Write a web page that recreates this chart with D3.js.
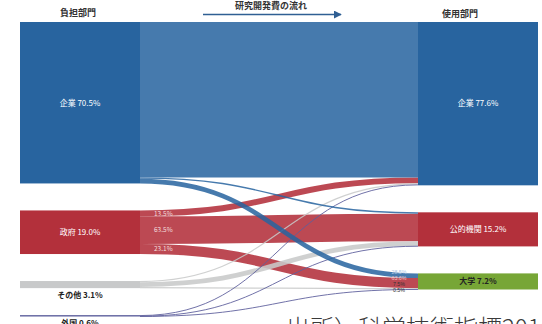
<!DOCTYPE html>
<html><head><meta charset="utf-8">
<script src="https://cdn.jsdelivr.net/npm/d3@7"></script>
<style>
html,body{margin:0;padding:0;background:#fff;}
svg{display:block;font-family:"Noto Sans CJK JP","Noto Sans",sans-serif;}
</style></head>
<body>
<svg id="chart" width="542" height="324"></svg>
<script>
// ---- data ----
const columns = ["負担部門", "使用部門"];
const sourceNodes = ["企業", "政府", "その他", "外国"];
const sourceShares = ["70.5%", "19.0%", "3.1%", "0.6%"];
const targetNodes = ["企業", "公的機関", "大学"];
const targetShares = ["77.6%", "15.2%", "7.2%"];
const flowSource = ["企業","企業","企業","政府","政府","政府","その他","その他","その他","外国","外国","外国"];
const flowTarget = ["企業","公的機関","大学","企業","公的機関","大学","企業","公的機関","大学","企業","公的機関","大学"];
const flowValues = [67.85, 0.6, 2.05, 2.57, 12.07, 4.39, 0.5, 2.06, 0.54, 0.4, 0.15, 0.05];
const govLabels = ["13.5%", "63.5%", "23.1%"];
const univLabels = ["28.5%", "63.6%", "7.5%", "0.5%"];
const title = "研究開発費の流れ";
const sourceNote = "出所）科学技術指標2016";

const colorOf = {"企業":"#28649f","政府":"#b3303b","その他":"#c8c9ca","外国":"#5d5f9c","公的機関":"#b3303b","大学":"#77a636"};

// ---- layout ----
const svg = d3.select("#chart");
const topY = 22, bottomY = 316.5, pad = 27, nodeW = 120;
const x = d3.scalePoint().domain(columns).range([20, 418]);

const links = flowValues.map((v,i)=>({s:flowSource[i], t:flowTarget[i], v}));
const srcSum = sourceNodes.map(n=>d3.sum(links.filter(l=>l.s===n), l=>l.v));
const tgtSum = targetNodes.map(n=>d3.sum(links.filter(l=>l.t===n), l=>l.v));
const k = (bottomY - topY - (sourceNodes.length-1)*pad) / d3.sum(srcSum);
const y = d3.scaleLinear().domain([0,1]).range([0,k]);

function stack(names, sums, col){
  let cur = topY;
  return names.map((n,i)=>{
    const o = {name:n, value:sums[i], x0:x(col), x1:x(col)+nodeW, y0:cur, y1:cur+y(sums[i])};
    cur = o.y1 + pad; return o;
  });
}
const sNodes = stack(sourceNodes, srcSum, columns[0]);
const tNodes = stack(targetNodes, tgtSum, columns[1]);
const sMap = Object.fromEntries(sNodes.map(d=>[d.name,d]));
const tMap = Object.fromEntries(tNodes.map(d=>[d.name,d]));

// link slots
sNodes.forEach(n=>{
  let c = n.y0;
  links.filter(l=>l.s===n.name).sort((a,b)=>targetNodes.indexOf(a.t)-targetNodes.indexOf(b.t))
    .forEach(l=>{ l.w = y(l.v); l.sy = c + l.w/2; c += l.w; });
});
tNodes.forEach(n=>{
  let c = n.y0;
  links.filter(l=>l.t===n.name).sort((a,b)=>sourceNodes.indexOf(a.s)-sourceNodes.indexOf(b.s))
    .forEach(l=>{ l.ty = c + l.w/2; c += l.w; });
});

const linkGen = d3.linkHorizontal().source(l=>[sMap[l.s].x1, l.sy]).target(l=>[tMap[l.t].x0, l.ty]);
const drawOrder = ["政府","その他","外国","企業"];
const ordered = links.slice().sort((a,b)=>drawOrder.indexOf(a.s)-drawOrder.indexOf(b.s));

svg.append("g").selectAll("path").data(ordered).join("path")
  .attr("d", linkGen).attr("fill","none")
  .attr("stroke", l=>colorOf[l.s])
  .attr("stroke-opacity", l=> l.s==="企業" ? 0.86 : 0.88)
  .attr("stroke-width", l=>Math.max(1, l.w));

// nodes
const allNodes = sNodes.map((d,i)=>({...d, side:"s", share:sourceShares[i]}))
  .concat(tNodes.map((d,i)=>({...d, side:"t", share:targetShares[i]})));
svg.append("g").selectAll("rect").data(allNodes).join("rect")
  .attr("x", d=>d.x0).attr("y", d=>d.y0)
  .attr("width", d=>d.x1-d.x0).attr("height", d=>Math.max(1.2, d.y1-d.y0))
  .attr("fill", d=>colorOf[d.name]);

// node labels
svg.append("g").selectAll("text").data(allNodes).join("text")
  .attr("x", d=>(d.x0+d.x1)/2)
  .attr("y", d=> (d.y1-d.y0) > 12 ? (d.y0+d.y1)/2 : d.y1 + 7)
  .attr("dy","0.35em").attr("text-anchor","middle")
  .attr("font-size", 8)
  .attr("font-weight", d=> (d.y1-d.y0) > 12 && d.name!=="大学" ? 400 : 700)
  .attr("fill", d=> (d.y1-d.y0) > 12 ? (d.name==="大学" ? "#222" : "#fff") : "#222")
  .text(d=>d.name+" "+d.share);

// government split labels
const govLinks = links.filter(l=>l.s==="政府").sort((a,b)=>a.sy-b.sy);
svg.append("g").selectAll("text").data(govLinks).join("text")
  .attr("x", l=>sMap[l.s].x1 + 14).attr("y", l=>l.sy).attr("dy","0.35em")
  .attr("font-size", 6.5).attr("fill","#f3dede")
  .text((l,i)=>govLabels[i]);

// university split labels
const uni = tMap["大学"];
svg.append("g").selectAll("text").data(univLabels).join("text")
  .attr("x", uni.x0 - 19).attr("y", (d,i)=>uni.y0 - 1.5 + i*6.2).attr("dy","0.35em")
  .attr("text-anchor","middle").attr("font-size", 5.3)
  .attr("font-family","'Liberation Sans', Arial, sans-serif")
  .attr("fill", (d,i)=> i===0 ? "#a9c4e4" : i===1 ? "#f2c4c7" : "#333")
  .text(d=>d);

// headers
svg.append("text").attr("x", 78).attr("y", 13).attr("dy","0.35em").attr("text-anchor","middle")
  .attr("font-size", 9).attr("font-weight",700).attr("fill","#333").text(columns[0]);
svg.append("text").attr("x", 460).attr("y", 14).attr("dy","0.35em").attr("text-anchor","middle")
  .attr("font-size", 9).attr("font-weight",700).attr("fill","#333").text(columns[1]);
svg.append("text").attr("x", 271).attr("y", 6).attr("dy","0.35em").attr("text-anchor","middle")
  .attr("font-size", 9).attr("font-weight",700).attr("fill","#333").text(title);

const defs = svg.append("defs");
defs.append("marker").attr("id","arr").attr("viewBox","0 0 10 10").attr("refX",9).attr("refY",5)
  .attr("markerWidth",5).attr("markerHeight",5).attr("orient","auto")
  .append("path").attr("d","M0,0L10,5L0,10z").attr("fill","#2f5f93");
svg.append("line").attr("x1",203).attr("x2",341).attr("y1",14.5).attr("y2",14.5)
  .attr("stroke","#2f5f93").attr("stroke-width",1.6).attr("marker-end","url(#arr)");

// source note
svg.append("text").attr("x", 286).attr("y", 337).attr("font-size", 24).attr("font-weight",300)
  .attr("fill","#3a3a3a").text(sourceNote);
</script>
</body></html>
